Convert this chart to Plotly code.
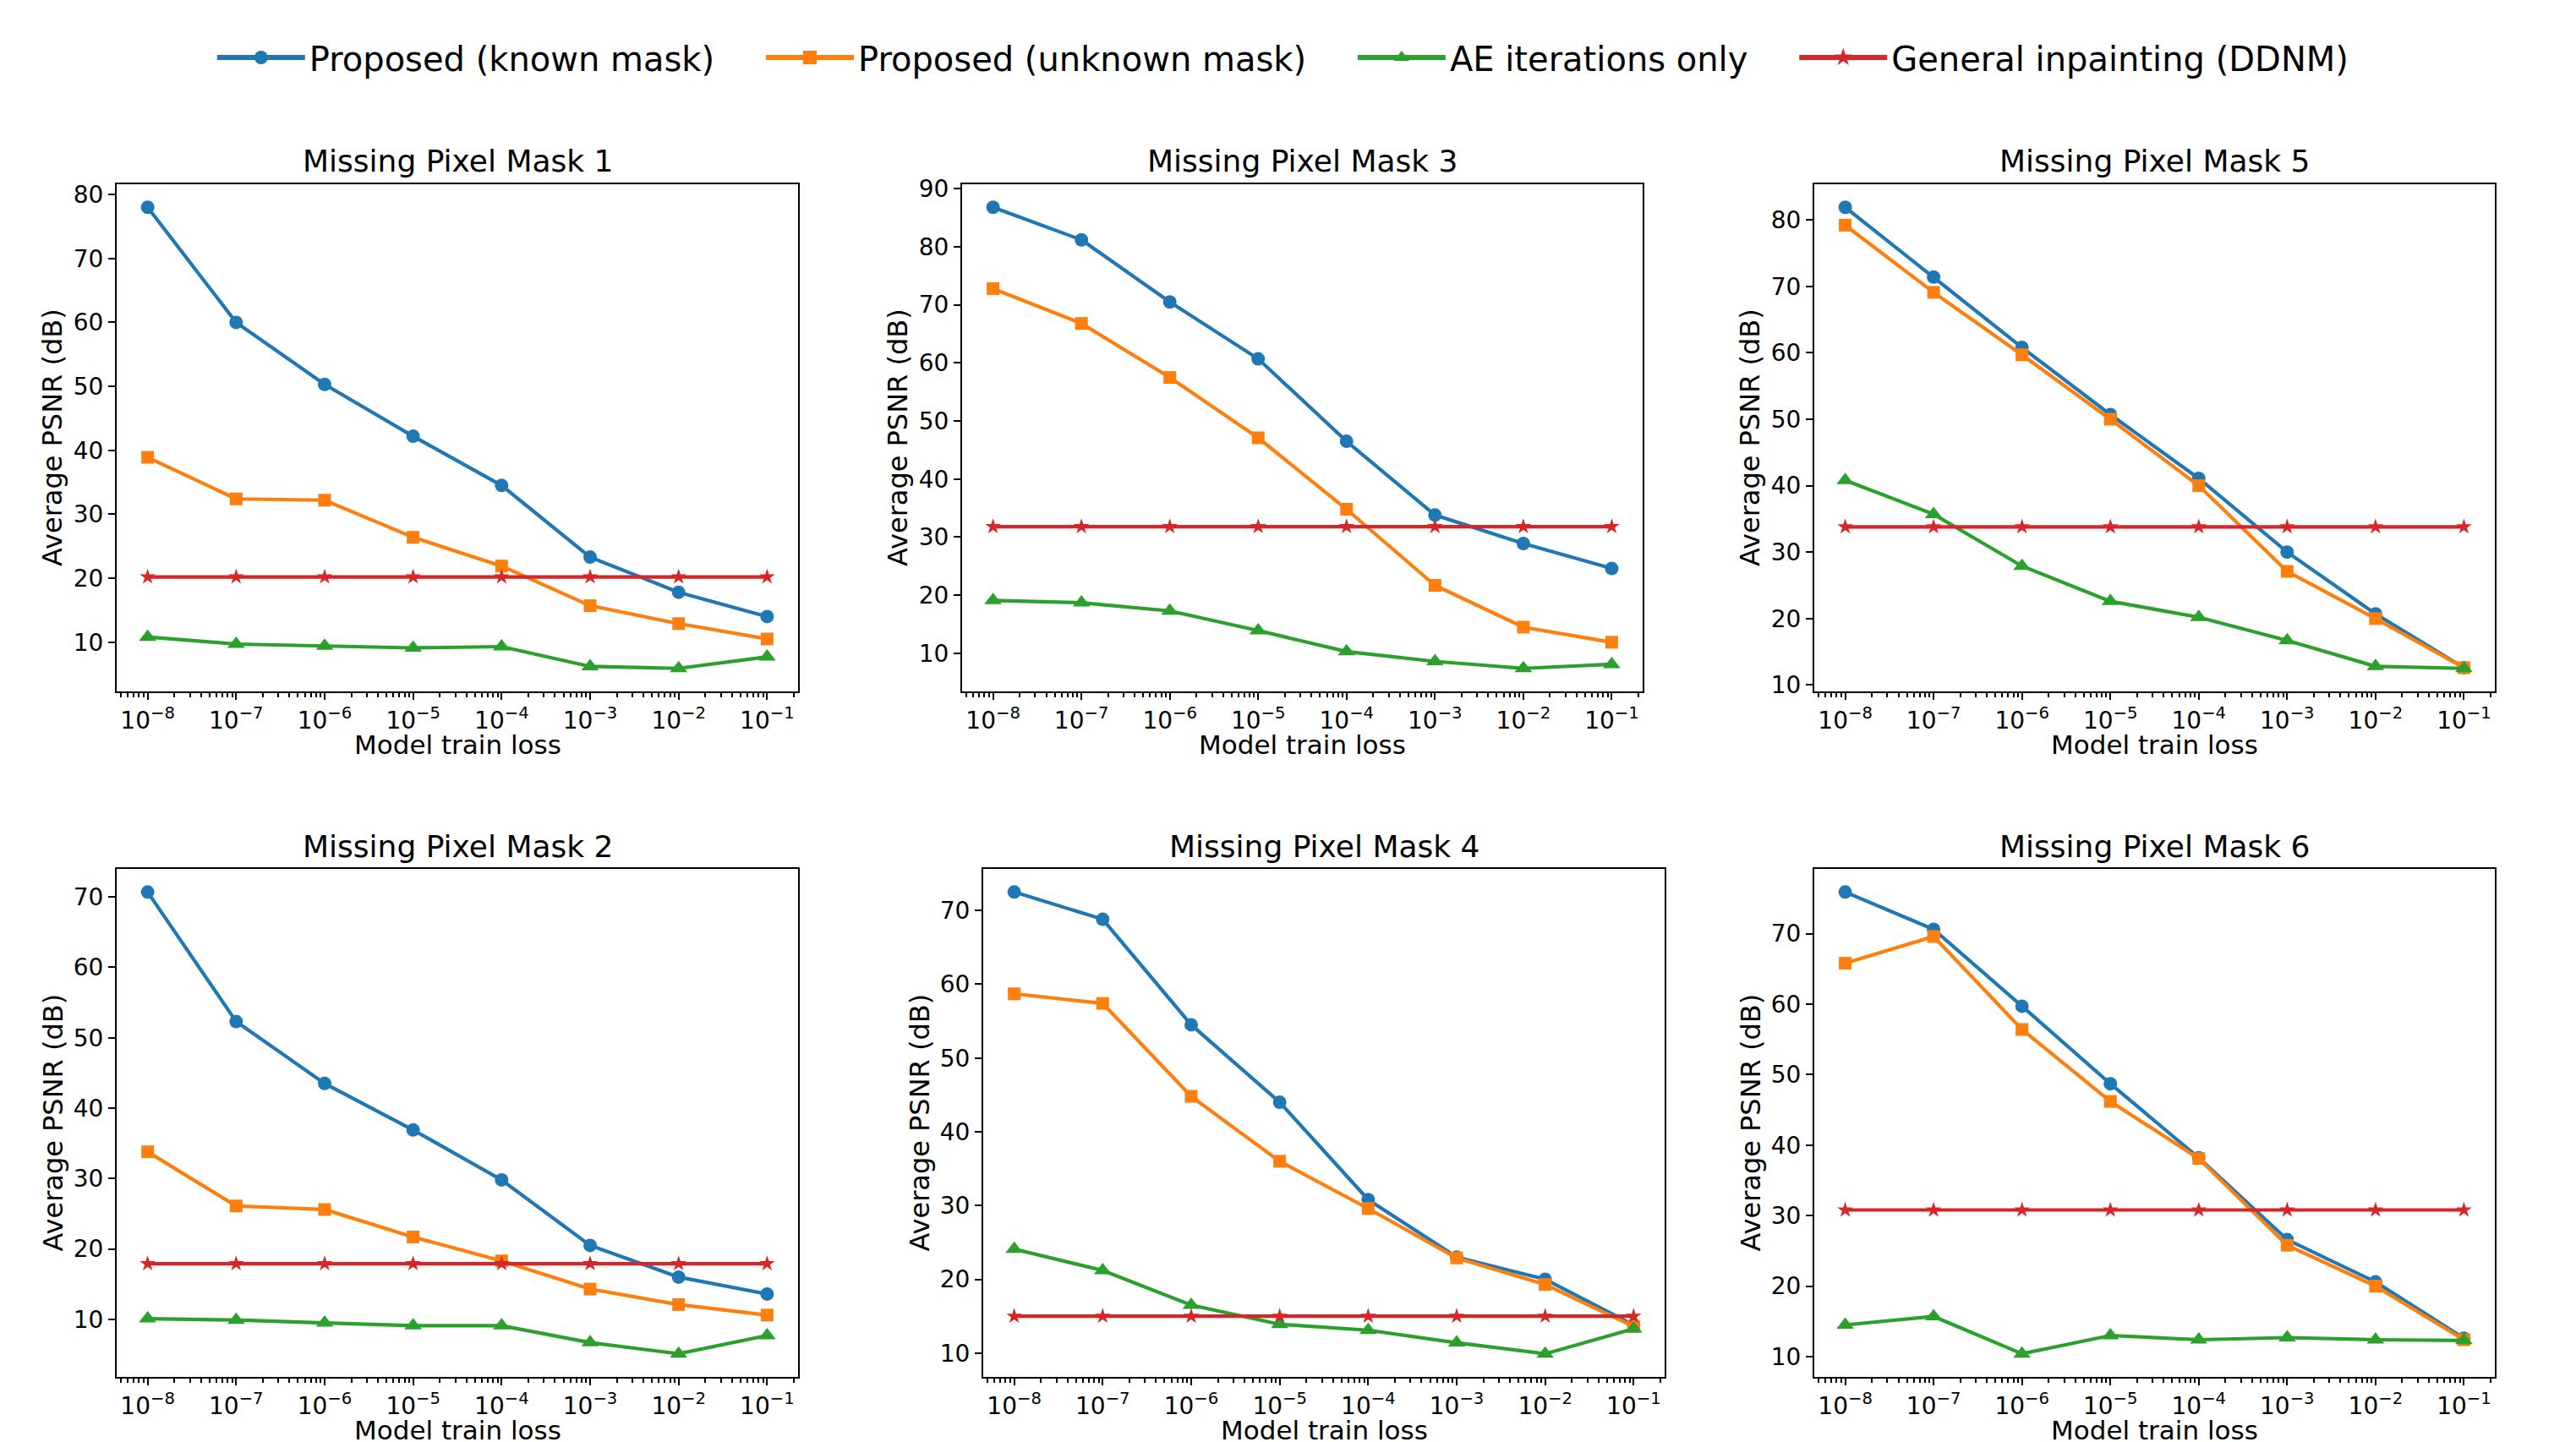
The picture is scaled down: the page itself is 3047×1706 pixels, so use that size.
import plotly.graph_objects as go

# ---------------- data ----------------
train_loss = [1e-8, 1e-7, 1e-6, 1e-5, 1e-4, 1e-3, 1e-2, 1e-1]
tick_labels = ["10<sup>−8</sup>", "10<sup>−7</sup>", "10<sup>−6</sup>", "10<sup>−5</sup>",
               "10<sup>−4</sup>", "10<sup>−3</sup>", "10<sup>−2</sup>", "10<sup>−1</sup>"]

series_names = ["Proposed (known mask)", "Proposed (unknown mask)",
                "AE iterations only", "General inpainting (DDNM)"]

x_label = "Model train loss"
y_label = "Average PSNR (dB)"

mask1_known = [78.0, 60.0, 50.3, 42.2, 34.5, 23.3, 17.8, 14.0]
mask1_unknown = [38.9, 32.4, 32.2, 26.4, 21.9, 15.7, 12.9, 10.5]
mask1_ae = [10.8, 9.7, 9.4, 9.1, 9.3, 6.2, 5.9, 7.7]
mask1_ddnm = [20.2] * 8

mask2_known = [70.7, 52.3, 43.5, 36.9, 29.8, 20.5, 16.0, 13.6]
mask2_unknown = [33.8, 26.1, 25.6, 21.7, 18.3, 14.3, 12.1, 10.6]
mask2_ae = [10.1, 9.9, 9.5, 9.1, 9.1, 6.7, 5.1, 7.7]
mask2_ddnm = [17.9] * 8

mask3_known = [86.8, 81.2, 70.5, 60.7, 46.5, 33.8, 28.9, 24.6]
mask3_unknown = [72.8, 66.8, 57.5, 47.1, 34.8, 21.7, 14.5, 11.9]
mask3_ae = [19.1, 18.7, 17.3, 13.9, 10.3, 8.6, 7.4, 8.1]
mask3_ddnm = [31.8] * 8

mask4_known = [72.5, 68.8, 54.5, 44.0, 30.8, 23.0, 20.0, 13.8]
mask4_unknown = [58.7, 57.4, 44.8, 36.0, 29.6, 22.9, 19.3, 13.6]
mask4_ae = [24.1, 21.2, 16.5, 13.9, 13.1, 11.4, 9.9, 13.3]
mask4_ddnm = [15.0] * 8

mask5_known = [81.9, 71.4, 60.8, 50.7, 41.1, 30.0, 20.7, 12.6]
mask5_unknown = [79.2, 69.1, 59.7, 50.0, 40.0, 27.1, 20.0, 12.6]
mask5_ae = [40.8, 35.7, 27.9, 22.6, 20.2, 16.7, 12.8, 12.5]
mask5_ddnm = [33.8] * 8

mask6_known = [75.9, 70.6, 59.7, 48.7, 38.2, 26.6, 20.6, 12.6]
mask6_unknown = [65.8, 69.6, 56.4, 46.2, 38.1, 25.8, 20.0, 12.4]
mask6_ae = [14.5, 15.7, 10.4, 13.0, 12.4, 12.7, 12.4, 12.3]
mask6_ddnm = [30.8] * 8

panel_titles = ["Missing Pixel Mask 1", "Missing Pixel Mask 2", "Missing Pixel Mask 3",
                "Missing Pixel Mask 4", "Missing Pixel Mask 5", "Missing Pixel Mask 6"]

# ---------------- style ----------------
W, H = 3047, 1706
FONT = "DejaVu Sans"
colors = ["#1f77b4", "#ff7f0e", "#2ca02c", "#d62728"]
symbols = ["circle", "square", "triangle-up", "star"]
msizes = [16, 15, 18, 14]
legend_pad = ["\u00a0" * 4, "\u00a0" * 4, "\u00a0" * 4, ""]

panels = [
    (panel_titles[0], [mask1_known, mask1_unknown, mask1_ae, mask1_ddnm], (130, 936), (210, 810)),
    (panel_titles[1], [mask2_known, mask2_unknown, mask2_ae, mask2_ddnm], (130, 936), (1020, 1621)),
    (panel_titles[2], [mask3_known, mask3_unknown, mask3_ae, mask3_ddnm], (1130, 1935), (210, 810)),
    (panel_titles[3], [mask4_known, mask4_unknown, mask4_ae, mask4_ddnm], (1155, 1961), (1020, 1621)),
    (panel_titles[4], [mask5_known, mask5_unknown, mask5_ae, mask5_ddnm], (2138, 2943), (210, 810)),
    (panel_titles[5], [mask6_known, mask6_unknown, mask6_ae, mask6_ddnm], (2138, 2943), (1020, 1621)),
]

minor_vals = [m * 10.0 ** e for e in range(-9, 0) for m in range(2, 10)]

fig = go.Figure()
layout = dict(
    width=W, height=H,
    margin=dict(l=0, r=0, t=0, b=0),
    paper_bgcolor="white", plot_bgcolor="white",
    font=dict(family=FONT, size=28, color="black"),
    showlegend=True,
    legend=dict(orientation="h", x=0.4955, xanchor="center", y=1 - 60 / H, yanchor="middle",
                font=dict(family=FONT, size=40, color="black"),
                itemwidth=104, tracegroupgap=0, bgcolor="rgba(0,0,0,0)"),
    annotations=[],
)

for i, (title, series, (x0, x1), (y0, y1)) in enumerate(panels):
    ax = "" if i == 0 else str(i + 1)
    xa, ya = "x" + ax, "y" + ax
    for k, vals in enumerate(series):
        fig.add_trace(go.Scatter(
            x=train_loss, y=vals, xaxis=xa, yaxis=ya, mode="lines+markers",
            name=series_names[k], showlegend=False, legendgroup=series_names[k],
            line=dict(color=colors[k], width=4.2),
            marker=dict(symbol=symbols[k], size=msizes[k], color=colors[k],
                        line=dict(width=0)),
        ))
    allv = [v for s in series for v in s]
    lo, hi = min(allv), max(allv)
    pad = 0.05 * (hi - lo)
    common = dict(showline=True, linecolor="black", linewidth=2.2, mirror=True,
                  ticks="outside", ticklen=8, tickwidth=2.2, tickcolor="black",
                  showgrid=False, zeroline=False, automargin=False)
    layout["xaxis" + ax] = dict(
        common, type="log", range=[-8.35, -0.65],
        domain=[x0 / W, x1 / W], anchor=ya,
        tickmode="array", tickvals=train_loss, ticktext=tick_labels,
        tickfont=dict(family=FONT, size=28, color="black"),
        minor=dict(tickmode="array", tickvals=minor_vals, ticks="outside",
                   ticklen=5, tickwidth=1.7, tickcolor="black", showgrid=False),
    )
    layout["yaxis" + ax] = dict(
        common, range=[lo - pad, hi + pad], dtick=10, tick0=0,
        domain=[1 - y1 / H, 1 - y0 / H], anchor=xa,
        tickfont=dict(family=FONT, size=28, color="black"),
    )
    # panel title
    layout["annotations"].append(dict(
        text=title, xref="paper", yref="paper", x=(x0 + x1) / 2 / W, y=1 - y0 / H,
        xanchor="center", yanchor="middle", yshift=27, showarrow=False,
        font=dict(family=FONT, size=36, color="black"),
    ))
    # x axis title
    layout["annotations"].append(dict(
        text=x_label, xref="paper", yref="paper", x=(x0 + x1) / 2 / W, y=1 - y1 / H,
        xanchor="center", yanchor="middle", yshift=-63, showarrow=False,
        font=dict(family=FONT, size=31, color="black"),
    ))
    # y axis title
    layout["annotations"].append(dict(
        text=y_label, xref="paper", yref="paper", x=x0 / W, y=1 - (y0 + y1) / 2 / H,
        xanchor="center", yanchor="middle", xshift=-76, textangle=-90, showarrow=False,
        font=dict(family=FONT, size=32, color="black"),
    ))

# legend-only entries
for k in range(4):
    fig.add_trace(go.Scatter(
        x=[None], y=[None], mode="lines+markers", name=series_names[k] + legend_pad[k],
        legendgroup=series_names[k], showlegend=True,
        line=dict(color=colors[k], width=6),
        marker=dict(symbol=symbols[k], size=16, color=colors[k], line=dict(width=0)),
    ))

fig.update_layout(**layout)
fig.write_html("out.html")
